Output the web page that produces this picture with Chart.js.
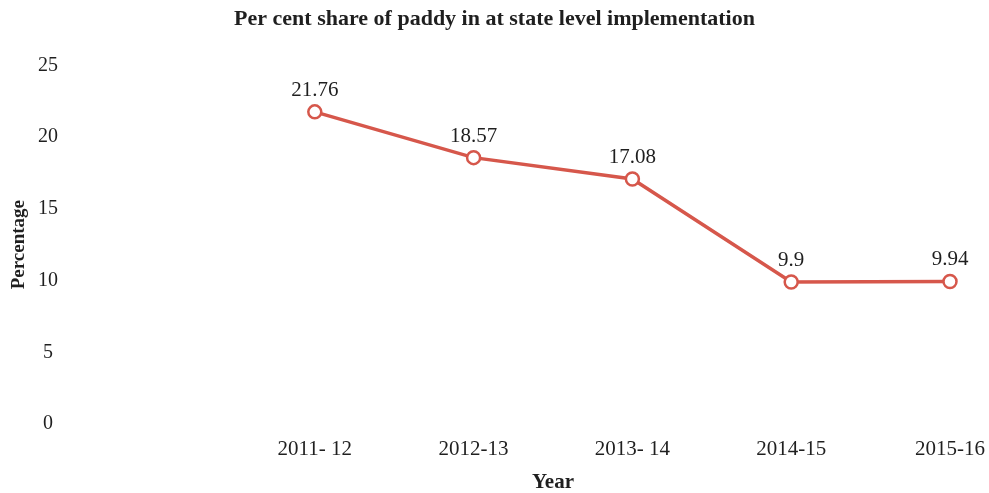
<!DOCTYPE html>
<html>
<head>
<meta charset="utf-8">
<script src="https://cdn.jsdelivr.net/npm/chart.js@4"></script>
<style>
  html, body { margin: 0; padding: 0; background: #fff; }
  #wrap { width: 989px; height: 493px; }
</style>
</head>
<body>
<div id="wrap"><canvas id="paddyChart"></canvas></div>
<script>
// Años y porcentaje de arroz (paddy)
const years = ["2011- 12", "2012-13", "2013- 14", "2014-15", "2015-16"];
const shares = [21.76, 18.57, 17.08, 9.9, 9.94];
const shareLabels = ["21.76", "18.57", "17.08", "9.9", "9.94"];
const yTicks = [0, 5, 10, 15, 20, 25];

const lineColor = '#d6574b';
const textColor = '#1f1f1f';
const serif = "'Liberation Serif', 'DejaVu Serif', serif";

// Los puntos van sobre un eje lineal (índice del año); el -1 deja una categoría vacía a la izquierda
const puntos = shares.map((v, i) => ({ x: i, y: v }));

// Etiquetas de valor encima de cada punto
const valueLabels = {
    id: 'valueLabels',
    afterDatasetsDraw(chart) {
        const { ctx } = chart;
        const meta = chart.getDatasetMeta(0);
        ctx.save();
        ctx.font = `21px ${serif}`;
        ctx.fillStyle = textColor;
        ctx.textAlign = 'center';
        ctx.textBaseline = 'bottom';
        meta.data.forEach((pt, i) => {
            ctx.fillText(shareLabels[i], pt.x, pt.y - 11);
        });
        ctx.restore();
    }
};

const ctx = document.getElementById('paddyChart').getContext('2d');
new Chart(ctx, {
    type: 'line',
    data: {
        datasets: [{
            data: puntos,
            borderColor: lineColor,
            borderWidth: 3.5,
            pointRadius: 6.5,
            pointBorderWidth: 2.5,
            pointBackgroundColor: '#ffffff',
            pointBorderColor: lineColor,
            tension: 0,
            clip: false
        }]
    },
    options: {
        responsive: true,
        maintainAspectRatio: false,
        animation: false,
        layout: { padding: 0 },
        plugins: {
            legend: { display: false },
            tooltip: { enabled: false },
            title: {
                display: true,
                text: 'Per cent share of paddy in at state level implementation',
                color: textColor,
                font: { family: serif, size: 22, weight: 'bold' },
                padding: { top: 6, bottom: 33 }
            }
        },
        scales: {
            x: {
                type: 'linear',
                min: -1,
                max: years.length - 1,
                grid: { display: false, drawTicks: false },
                border: { display: false },
                afterBuildTicks(scale) {
                    scale.ticks = years.map((_, i) => ({ value: i }));
                },
                ticks: {
                    color: textColor,
                    font: { family: serif, size: 21 },
                    padding: 13,
                    maxRotation: 0,
                    autoSkip: false,
                    callback: (v) => years[v] ?? ''
                },
                title: {
                    display: true,
                    text: 'Year',
                    color: textColor,
                    font: { family: serif, size: 21, weight: 'bold', lineHeight: 1 },
                    padding: { top: 0, bottom: 0 }
                },
                afterFit(scale) {
                    scale.height = 69;
                    scale.paddingLeft = 0;
                    scale.paddingRight = 39;
                }
            },
            y: {
                min: 0,
                max: 25,
                grid: { display: false, drawTicks: false },
                border: { display: false },
                afterBuildTicks(scale) {
                    scale.ticks = yTicks.map(v => ({ value: v }));
                },
                ticks: {
                    color: textColor,
                    font: { family: serif, size: 20 },
                    crossAlign: 'center',
                    padding: 98
                },
                title: {
                    display: true,
                    text: 'Percentage',
                    color: textColor,
                    font: { family: serif, size: 19, weight: 'bold' },
                    padding: { top: 8, bottom: 0 }
                },
                afterFit(scale) {
                    scale.width = 156;
                    scale.paddingTop = 0;
                    scale.paddingBottom = 0;
                }
            }
        }
    },
    plugins: [valueLabels]
});
</script>
</body>
</html>
